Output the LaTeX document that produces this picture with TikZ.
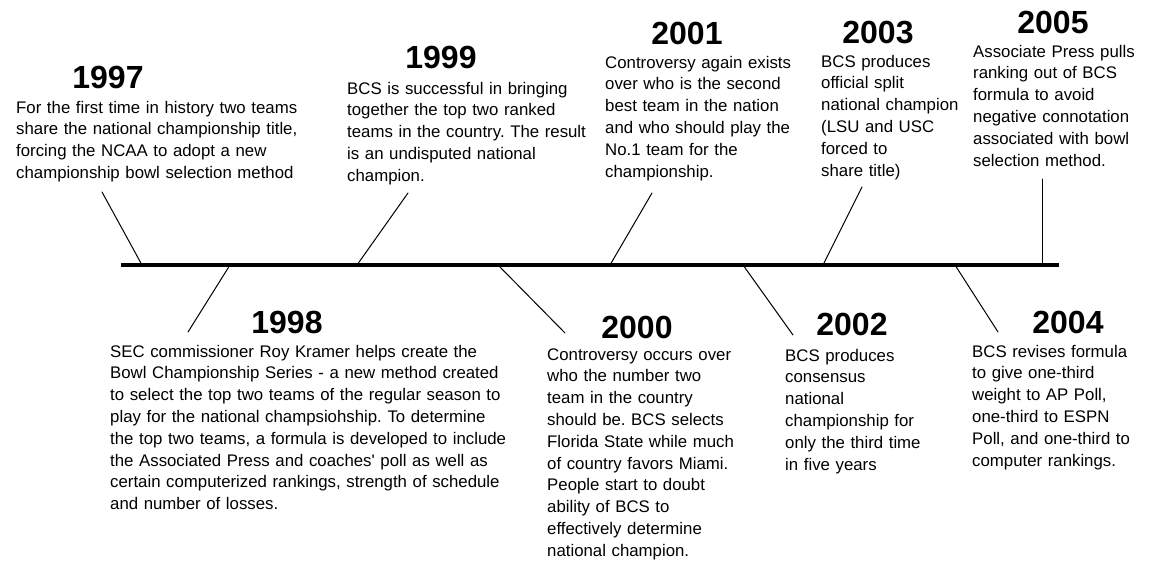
\documentclass[tikz,border=0pt]{standalone}
\usepackage{fontspec}
\setmainfont{Liberation Sans}[Ligatures=TeXOff]
\usepackage{tikz}
\usetikzlibrary{calc}
\frenchspacing
\def\bodyFont{\fontsize{16.8}{21.8}\selectfont}
\def\yearFont{\fontsize{32}{32}\selectfont\bfseries}
\def\axisThickness{(4pt)}
\def\tickThickness{(1pt)}
\def\lineY{265}
\tikzset{axis/.style={black,line width=\axisThickness,line cap=butt}}
\tikzset{tick/.style={black,line width=\tickThickness,line cap=round}}
\tikzset{year/.style={anchor=base,inner sep=0,font=\yearFont}}
\tikzset{note/.style={anchor=base west,inner sep=0,text width=420pt,align=left,font=\bodyFont}}
% year #1 centred at #2, its text starts at #3
\newcommand{\stamp}[4]{\node[year](y#1) at (#2){#1};\node[note](t#1) at (#3){#4};}
% tick from the time line at x=#2 to the free end #3
\newcommand{\tick}[3]{\coordinate(a#1) at (#2,\lineY);\coordinate(e#1) at (#3);\draw[tick](a#1)--(e#1);}

\begin{document}
\begin{tikzpicture}[x=1pt,y=-1pt]\useasboundingbox (0,0) rectangle (1152,562);
\coordinate(L0) at (121,\lineY);\coordinate(L1) at (1059,\lineY);
\tick{97}{142}{102,192}\tick{99}{357}{408,193}\tick{01}{610}{652,193}\tick{03}{823}{862,187}\tick{05}{1042}{1042,179}
\tick{98}{230}{188,332}\tick{00}{498}{565,333}\tick{02}{743}{793,335}\tick{04}{955}{998,332}
\draw[axis](L0)--(L1);
\stamp{1997}{108,88}{16,113}{For the first time in history two teams\\share the national championship title,\\forcing the NCAA to adopt a new\\championship bowl selection method}
\stamp{1999}{441,68}{347,94}{BCS is successful in bringing\\together the top two ranked\\teams in the country. The result\\is an undisputed national\\champion.}
\stamp{2001}{687,45}{605,68}{Controversy again exists\\over who is the second\\best team in the nation\\and who should play the\\No.1 team for the\\championship.}
\stamp{2003}{878,43}{821,67}{BCS produces\\official split\\national champion\\(LSU and USC\\forced to\\share title)}
\stamp{2005}{1053,33}{973,57}{Associate Press pulls\\ranking out of BCS\\formula to avoid\\negative connotation\\associated with bowl\\selection method.}
\stamp{1998}{287,333}{110,357}{SEC commissioner Roy Kramer helps create the\\Bowl Championship Series - a new method created\\to select the top two teams of the regular season to\\play for the national champsiohship. To determine\\the top two teams, a formula is developed to include\\the Associated Press and coaches' poll as well as\\certain computerized rankings, strength of schedule\\and number of losses.}
\stamp{2000}{637,338}{547,360}{Controversy occurs over\\who the number two\\team in the country\\should be. BCS selects\\Florida State while much\\of country favors Miami.\\People start to doubt\\ability of BCS to\\effectively determine\\national champion.}
\stamp{2002}{852,335}{785,361}{BCS produces\\consensus\\national\\championship for\\only the third time\\in five years}
\stamp{2004}{1068,333}{972,357}{BCS revises formula\\to give one-third\\weight to AP Poll,\\one-third to ESPN\\Poll, and one-third to\\computer rankings.}
\end{tikzpicture}
\end{document}
